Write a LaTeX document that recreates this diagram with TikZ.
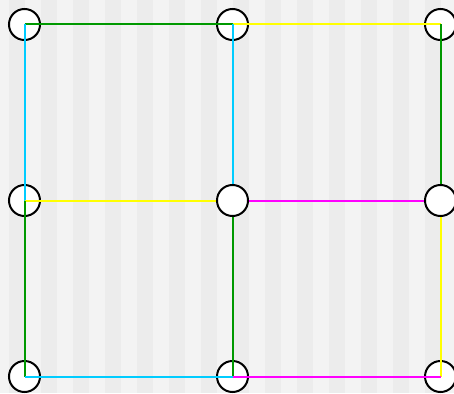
\documentclass[tikz,border=0pt]{standalone}
\definecolor{bglight}{HTML}{F3F3F3}
\definecolor{bgdark}{HTML}{ECECEC}
\definecolor{lgreen}{HTML}{009900}
\definecolor{lcyan}{HTML}{00CCFF}
\definecolor{lyellow}{HTML}{FFFF00}
\definecolor{lmagenta}{HTML}{FF00FF}
\begin{document}
\begin{tikzpicture}[x=1pt,y=-1pt,
  dot/.style={circle,draw=black,fill=white,line width=2pt,minimum size=31pt,inner sep=0pt},
  edge/.style={line width=2pt}]
\useasboundingbox (0,0) rectangle (454,393);
\fill[bglight] (0,0) rectangle (454,393);
\foreach \k in {0,...,13} {\fill[bgdark] (9+32*\k,0) rectangle (25+32*\k,393);}
% circles below the lines
\node[dot] (tl) at (24.5,24.5) {};
\node[dot] (tc) at (232.5,24.5) {};
\node[dot] (tr) at (440.5,24.5) {};
\node[dot] (ml) at (24.5,200.5) {};
\node[dot] (bl) at (24.5,376.5) {};
\node[dot] (bc) at (232.5,376.5) {};
\node[dot] (br) at (440.5,376.5) {};
\coordinate (mcc) at (232.5,200.5);
\coordinate (mrc) at (440.5,200.5);
% connectors
\draw[edge,lgreen] (tl.center) -- (tc.center);
\draw[edge,lcyan] (tl.center) -- (ml.center);
\draw[edge,lyellow] (tc.center) -- (tr.center);
\draw[edge,lcyan] (tc.center) -- (mcc);
\draw[edge,lgreen] (tr.center) -- (mrc);
\draw[edge,lyellow] (ml.center) -- (mcc);
\draw[edge,lgreen] (ml.center) -- (bl.center);
\draw[edge,lmagenta] (mcc) -- (mrc);
\draw[edge,lgreen] (mcc) -- (bc.center);
\draw[edge,lyellow] (mrc) -- (br.center);
\draw[edge,lcyan] (bl.center) -- (bc.center);
\draw[edge,lmagenta] (bc.center) -- (br.center);
% circles above the lines
\node[dot] (mc) at (mcc) {};
\node[dot] (mr) at (mrc) {};
\end{tikzpicture}
\end{document}
